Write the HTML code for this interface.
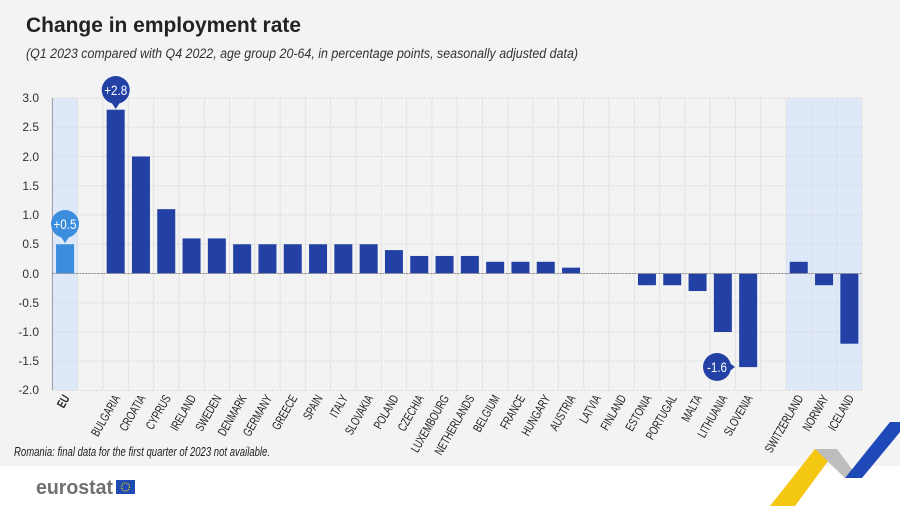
<!DOCTYPE html>
<html><head><meta charset="utf-8"><style>
html,body{margin:0;padding:0;background:#fff}
svg{display:block}
text{font-family:"Liberation Sans",sans-serif}
</style></head><body>
<svg width="900" height="506" viewBox="0 0 900 506" xmlns="http://www.w3.org/2000/svg">
<rect x="0" y="0" width="900" height="466" fill="#f3f3f3"/>
<text x="26" y="32" font-size="21" font-weight="bold" fill="#222" textLength="275" lengthAdjust="spacingAndGlyphs">Change in employment rate</text>
<text x="26" y="58" font-size="13.5" font-style="italic" fill="#333" textLength="552" lengthAdjust="spacingAndGlyphs">(Q1 2023 compared with Q4 2022, age group 20-64, in percentage points, seasonally adjusted data)</text>
<rect x="52.4" y="98" width="25.3" height="292" fill="#dde8f8"/>
<rect x="786.3" y="98" width="75.9" height="292" fill="#dde8f8"/>
<g id="grid"></g>
<g id="bars"></g>
<g id="labels"></g>
<line x1="52.4" y1="98" x2="52.4" y2="390" stroke="#999" stroke-width="1"/>
<line x1="52.4" y1="273.5" x2="862" y2="273.5" stroke="#888" stroke-width="1" stroke-dasharray="2,1"/>
<g font-size="12" fill="#333" text-anchor="end">
<text x="39" y="102">3.0</text><text x="39" y="131">2.5</text><text x="39" y="161">2.0</text>
<text x="39" y="190">1.5</text><text x="39" y="219">1.0</text><text x="39" y="248">0.5</text>
<text x="39" y="278">0.0</text><text x="39" y="307">-0.5</text><text x="39" y="336">-1.0</text>
<text x="39" y="365">-1.5</text><text x="39" y="394">-2.0</text>
</g>
<g id="callouts">
<path d="M115.7,109 l-6,-9 h12 z" fill="#2341a5"/>
<circle cx="115.7" cy="90" r="14" fill="#2341a5"/>
<text x="115.7" y="95" font-size="14" fill="#fff" text-anchor="middle" textLength="23" lengthAdjust="spacingAndGlyphs">+2.8</text>
<path d="M65,243 l-6,-9 h12 z" fill="#3b8ede"/>
<circle cx="65" cy="224" r="14" fill="#3b8ede"/>
<text x="65" y="229" font-size="14" fill="#fff" text-anchor="middle" textLength="23" lengthAdjust="spacingAndGlyphs">+0.5</text>
<path d="M735,367 l-8,-6 v12 z" fill="#2341a5"/>
<circle cx="717" cy="367" r="14" fill="#2341a5"/>
<text x="717" y="372" font-size="14" fill="#fff" text-anchor="middle" textLength="20" lengthAdjust="spacingAndGlyphs">-1.6</text>
</g>
<text x="14" y="456" font-size="12.5" font-style="italic" fill="#222" textLength="256" lengthAdjust="spacingAndGlyphs">Romania: final data for the first quarter of 2023 not available.</text>
<text x="36" y="494" font-size="20" font-weight="bold" fill="#707070" textLength="77" lengthAdjust="spacingAndGlyphs">eurostat</text>
<rect x="116" y="480" width="19" height="14" fill="#1f4bb4"/>
<circle cx="125.5" cy="487" r="4" fill="none" stroke="#f5d000" stroke-width="1.3" stroke-dasharray="1,1.1"/>
<polygon points="770,506 815,449 837,449 795,506" fill="#f4c712"/>
<polygon points="815,449 837,449 857,476 845,478" fill="#bdbdbd"/>
<polygon points="845,478 890,422 900,422 900,432 862,478" fill="#1f49b8"/>
</svg>
<script>
const ns="http://www.w3.org/2000/svg";
const L=52.4,W=25.3,Z=273.5,S=58.5;
const g=document.getElementById('grid');
for(let v=-2;v<=3;v+=0.5){if(v===0)continue;const y=Z-v*S;const l=document.createElementNS(ns,'line');
l.setAttribute('x1',L);l.setAttribute('x2',862);l.setAttribute('y1',y);l.setAttribute('y2',y);
l.setAttribute('stroke','#d6d6d6');l.setAttribute('stroke-dasharray','2,2');g.appendChild(l);}
for(let i=1;i<=32;i++){const x=L+i*W;const l=document.createElementNS(ns,'line');
l.setAttribute('x1',x);l.setAttribute('x2',x);l.setAttribute('y1',98);l.setAttribute('y2',390);
l.setAttribute('stroke','#e2e2e2');g.appendChild(l);}
const d=[["EU",0,0.5],["BULGARIA",2,2.8],["CROATIA",3,2.0],["CYPRUS",4,1.1],["IRELAND",5,0.6],["SWEDEN",6,0.6],["DENMARK",7,0.5],["GERMANY",8,0.5],["GREECE",9,0.5],["SPAIN",10,0.5],["ITALY",11,0.5],["SLOVAKIA",12,0.5],["POLAND",13,0.4],["CZECHIA",14,0.3],["LUXEMBOURG",15,0.3],["NETHERLANDS",16,0.3],["BELGIUM",17,0.2],["FRANCE",18,0.2],["HUNGARY",19,0.2],["AUSTRIA",20,0.1],["LATVIA",21,0],["FINLAND",22,0],["ESTONIA",23,-0.2],["PORTUGAL",24,-0.2],["MALTA",25,-0.3],["LITHUANIA",26,-1.0],["SLOVENIA",27,-1.6],["SWITZERLAND",29,0.2],["NORWAY",30,-0.2],["ICELAND",31,-1.2]];
const b=document.getElementById('bars'),lb=document.getElementById('labels');
d.forEach(([n,i,v])=>{const cx=L+(i+0.5)*W;
if(v!==0){const r=document.createElementNS(ns,'rect');const h=Math.abs(v)*S;
r.setAttribute('x',cx-9);r.setAttribute('width',18);r.setAttribute('y',v>0?Z-h:Z);r.setAttribute('height',h);
r.setAttribute('fill',n==="EU"?"#3b8ede":"#2341a5");b.appendChild(r);}
const t=document.createElementNS(ns,'text');t.textContent=n;t.setAttribute('font-size','12.5');
t.setAttribute('fill','#222');t.setAttribute('text-anchor','end');
if(n==="EU")t.setAttribute('font-weight','bold');
t.setAttribute('transform',`translate(${cx+5},${398}) rotate(-60) scale(0.72,1)`);lb.appendChild(t);});
</script>
</body></html>
